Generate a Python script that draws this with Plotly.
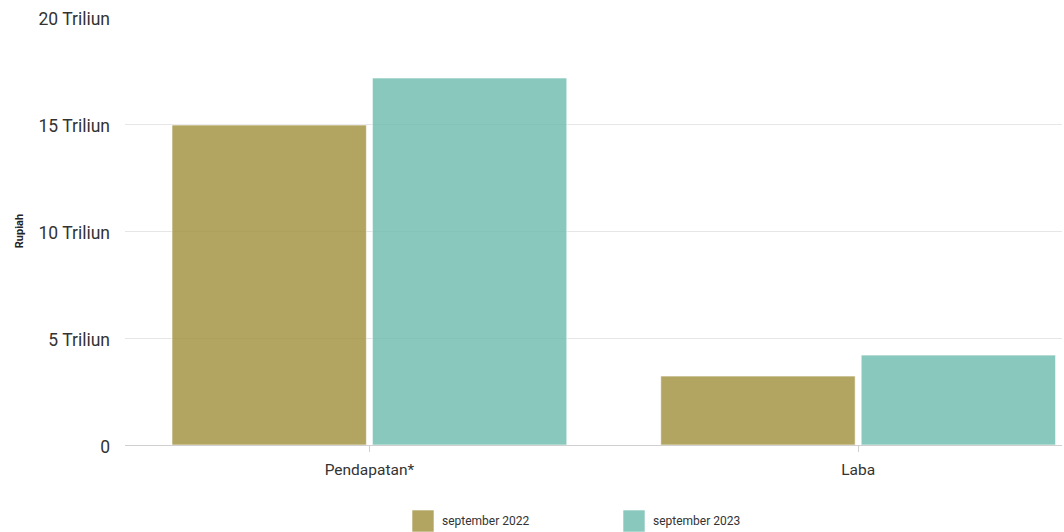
import plotly.graph_objects as go

categories = ["Pendapatan*", "Laba"]
series_names = ["september 2022", "september 2023"]
values_2022 = [14.95, 3.22]
values_2023 = [17.15, 4.2]
tick_vals = [0, 5, 10, 15, 20]
tick_text = ["0", "5 Triliun", "10 Triliun", "15 Triliun", "20 Triliun"]
colors = ["rgba(160,145,62,0.82)", "rgba(108,186,171,0.8)"]

# plot area geometry (pixels) used for the custom legend
PL, PR, PT, PB = 125, 1062, 17, 445
W, H = PR - PL, PB - PT

def px_x(p):
    return (p - PL) / W

def px_y(p):
    return (PB - p) / H

fig = go.Figure()
for name, vals, col in zip(series_names, [values_2022, values_2023], colors):
    fig.add_trace(go.Bar(
        x=categories, y=vals, name=name, showlegend=False,
        marker=dict(color=col, line=dict(color="rgba(255,255,255,0.6)", width=1)),
    ))

# custom legend with large square swatches
legend_x = [412, 623]
for name, col, lx in zip(series_names, colors, legend_x):
    fig.add_shape(type="rect", xref="paper", yref="paper",
                  x0=px_x(lx), x1=px_x(lx + 22), y0=px_y(510), y1=px_y(532),
                  fillcolor=col, line=dict(color="rgba(255,255,255,0.6)", width=1))
    fig.add_annotation(xref="paper", yref="paper", x=px_x(lx + 28), y=px_y(521),
                       xanchor="left", yanchor="middle", text=name, showarrow=False,
                       font=dict(size=12, color="#333"))

fig.update_layout(
    width=1064, height=532,
    margin=dict(l=PL, r=1064 - PR, t=PT, b=532 - PB),
    paper_bgcolor="white", plot_bgcolor="white",
    font=dict(family="Roboto, Arial, sans-serif", color="#333", size=14),
    barmode="group", bargap=0.18, bargroupgap=0.03,
)
fig.update_xaxes(range=[-0.5, 1.417], showline=True, linecolor="#d0d0d0", linewidth=1,
                 ticks="outside", ticklen=6, tickcolor="#d0d0d0", ticklabelstandoff=4,
                 tickfont=dict(size=15.5, color="#333"), showgrid=False)
fig.update_yaxes(range=[0, 20], tickvals=tick_vals, ticktext=tick_text,
                 gridcolor="#e6e6e6", zeroline=False, ticklabelstandoff=14, ticklabelshift=2,
                 tickfont=dict(size=17.5, color="#333"),
                 title=dict(text="<b>Rupiah</b>", font=dict(size=11, color="#222"), standoff=12))

fig.write_html("out.html")
